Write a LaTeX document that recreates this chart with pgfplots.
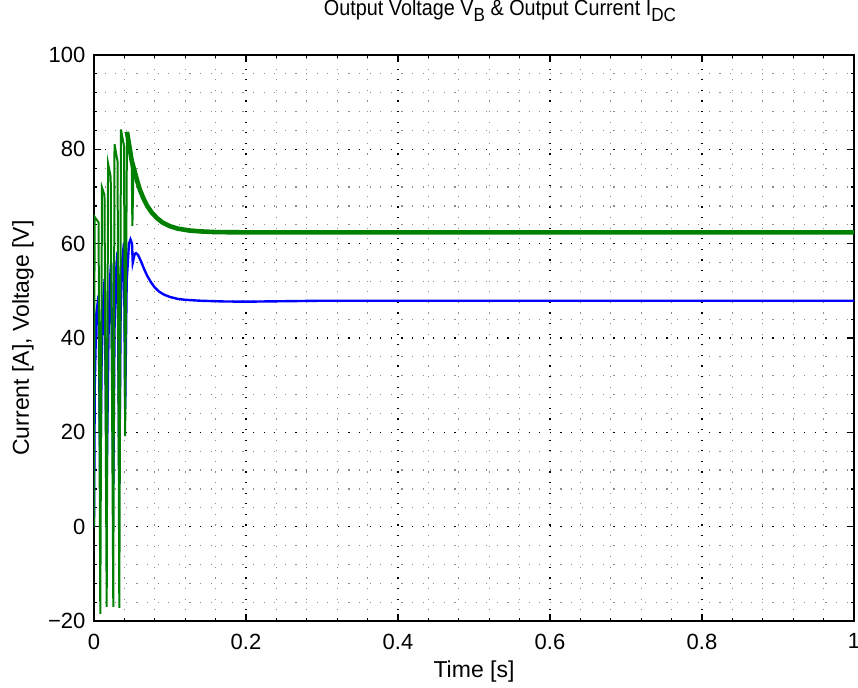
\documentclass[border=0pt]{standalone}
\usepackage{pgfplots}
\pgfplotsset{compat=1.18}
\usepackage{graphicx}
\usepackage{fontspec}
\setmainfont{Liberation Sans}
\definecolor{mgreen}{rgb}{0,0.5,0}

\begin{document}
\begin{tikzpicture}
\begin{axis}[
    width=380pt, height=283pt, scale only axis,
    xmin=0, xmax=1, ymin=-20, ymax=100,
    xtick={0,0.2,0.4,0.6,0.8,1},
    xticklabels={0,0.2,0.4,0.6,0.8,1},
    ytick={-20,0,20,40,60,80,100},
    yticklabels={−20,0,20,40,60,80,100},
    minor x tick num=4, minor y tick num=4,
    tick align=inside,
    major tick length=3.5pt, minor tick length=1.5pt,
    every tick/.style={black, line width=0.6pt},
    axis line style={line width=0.8pt},
    grid=both,
    major grid style={black, line width=0.6pt, dash pattern=on 0.6pt off 4.7pt},
    minor grid style={black!45, line width=0.6pt, dash pattern=on 0.6pt off 4.7pt},
    ticklabel style={font=\fontsize{11}{13}\selectfont},
    xticklabel style={yshift=-2.8pt},
    yticklabel style={xshift=-0.8pt},
    xlabel={Time [s]},
    ylabel={Current [A], Voltage [V]},
    xlabel style={at={(axis description cs:0.5,-0.0689)}, anchor=north, inner sep=0pt, font=\fontsize{11.5}{13}\selectfont},
    ylabel style={at={(axis description cs:-0.0934,0.5)}, anchor=center, font=\fontsize{11.5}{13}\selectfont},
    title={\scalebox{0.9}[1]{Output Voltage V\raisebox{-0.55ex}{\fontsize{9.5}{10}\selectfont B} \& Output Current I\raisebox{-0.55ex}{\fontsize{9.5}{10}\selectfont DC}}},
    title style={at={(axis description cs:0.5342,1.0491)}, anchor=base, inner sep=0pt, font=\fontsize{11}{13}\selectfont},
]
% current (blue)
\addplot[blue, line width=1.2pt] coordinates {
(0,0) (0.001,30) (0.003,45) (0.006,49)
(0.0083,9) (0.010,35) (0.012,47) (0.014,52.5)
(0.0167,9) (0.019,40) (0.021,52) (0.0225,56)
(0.0254,9) (0.027,42) (0.029,54) (0.031,58.3)
(0.0333,9) (0.035,45) (0.037,56) (0.0395,60.2)
(0.041,25) (0.043,52) (0.046,60) (0.048,60.9) (0.050,60)
(0.051,56) (0.0535,57.8) (0.0553,58.0) (0.058,57.6) (0.062,56.2)
(0.066,54.6) (0.07,53.2) (0.075,51.8) (0.08,50.7) (0.086,49.8)
(0.092,49.2) (0.1,48.7) (0.11,48.3) (0.12,48.1) (0.14,47.9)
(0.17,47.75) (0.2,47.7) (0.25,47.8) (0.3,47.9) (1,47.9)
};
% voltage (green), transient
\addplot[mgreen, line width=1pt] coordinates {
(0,0) (0.0008,65.7) (0.006,64.5)
(0.0083,-18.5) (0.0105,71.9) (0.0138,70.3)
(0.0167,-17) (0.0185,77) (0.022,74.2)
(0.0254,-17) (0.027,81.1) (0.031,77.4)
(0.0333,-17.2) (0.0355,84.2) (0.0395,80.6)
(0.041,19.2) (0.0434,83.7) (0.0496,77.1)
(0.0505,63.7) (0.052,76)
};
% voltage (green), settling with ripple band
\addplot[mgreen, line width=2.3pt] coordinates {
(0.0434,83.7) (0.0466,80.6) (0.0496,77.6) (0.053,75.6) (0.057,73.2)
(0.0605,71.4) (0.065,69.6) (0.07,68.0) (0.076,66.6) (0.083,65.4)
(0.09,64.5) (0.1,63.7) (0.11,63.2) (0.125,62.8) (0.14,62.6)
(0.16,62.45) (0.2,62.4) (1,62.4)
};
\end{axis}
\pgfresetboundingbox
\path[use as bounding box] ([shift={(-47pt,-33pt)}]current axis.south west) rectangle ([shift={(2pt,27.5pt)}]current axis.north east);
\end{tikzpicture}
\end{document}
